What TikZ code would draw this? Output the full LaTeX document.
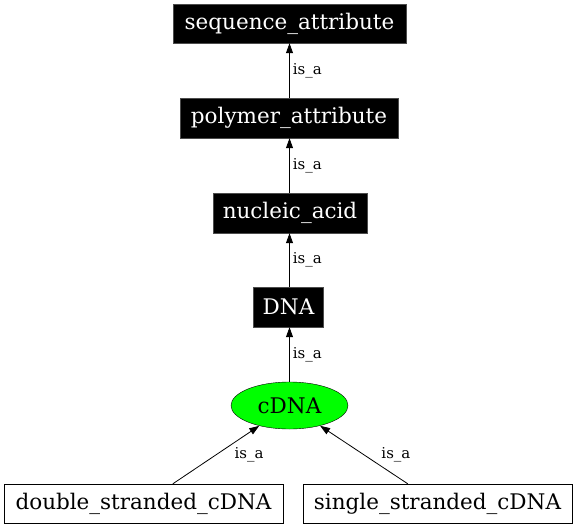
\documentclass[tikz,border=0pt]{standalone}
\usepackage{fontspec}
\setmainfont{DejaVu Serif}
\usetikzlibrary{arrows.meta,shapes.geometric}
\definecolor{lime}{HTML}{00FF00}
\begin{document}
\begin{tikzpicture}[x=1pt,y=-1pt,
  blackbox/.style={rectangle,fill=black,draw=black!70,text=white,inner sep=0pt,font=\fontsize{21.5}{24}\selectfont},
  whitebox/.style={rectangle,fill=white,draw=black,text=black,inner sep=0pt,font=\fontsize{21.5}{24}\selectfont},
  ell/.style={ellipse,fill=lime,draw=black,inner sep=0pt,font=\fontsize{21.5}{24}\selectfont},
  edge/.style={draw=black,line width=0.8pt,-{Triangle[length=10pt,width=7pt]}},
  lab/.style={font=\fontsize{15}{16}\selectfont,inner sep=0pt}]
\useasboundingbox (0,0) rectangle (576,528);
\node[blackbox,minimum width=233pt,minimum height=39pt] (seq) at (289.5,23.5) {sequence\_attribute};
\node[blackbox,minimum width=218pt,minimum height=40pt] (poly) at (289,118) {polymer\_attribute};
\node[blackbox,minimum width=154pt,minimum height=40pt] (nuc) at (290,213) {nucleic\_acid};
\node[blackbox,minimum width=70pt,minimum height=40pt] (dna) at (288.5,307) {DNA};
\node[ell,minimum width=117pt,minimum height=47pt] (cdna) at (289.5,405.5) {cDNA};
\node[whitebox,minimum width=279pt,minimum height=39pt] (ds) at (143.5,503.5) {double\_stranded\_cDNA};
\node[whitebox,minimum width=269pt,minimum height=39pt] (ss) at (437.5,503.5) {single\_stranded\_cDNA};
\draw[edge] (poly.north -| seq.south) -- (seq.south) node[lab,midway,anchor=west,xshift=3pt] {is\_a};
\draw[edge] (nuc.north -| seq.south) -- (poly.south -| seq.south) node[lab,midway,anchor=west,xshift=3pt] {is\_a};
\draw[edge] (dna.north -| seq.south) -- (nuc.south -| seq.south) node[lab,midway,anchor=west,xshift=3pt] {is\_a};
\draw[edge] (cdna.north -| seq.south) -- (dna.south -| seq.south) node[lab,midway,anchor=west,xshift=3pt] {is\_a};
\draw[edge] (ds) -- (cdna) node[lab,midway,xshift=33pt] {is\_a};
\draw[edge] (ss) -- (cdna) node[lab,midway,xshift=32pt] {is\_a};
\end{tikzpicture}
\end{document}
